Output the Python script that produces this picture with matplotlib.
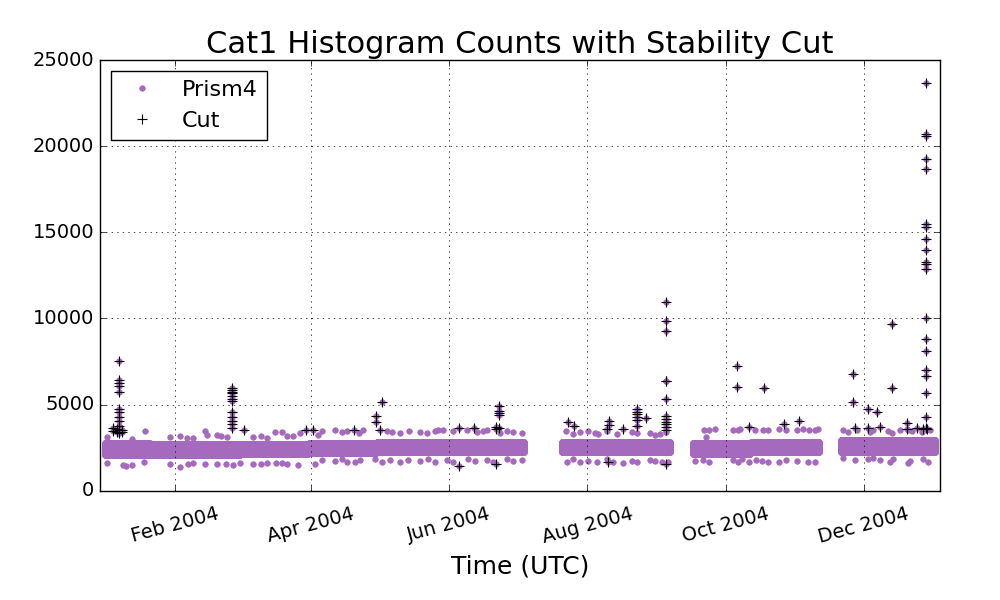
import numpy as np
import pandas as pd
import matplotlib
matplotlib.use('Agg')
import matplotlib.pyplot as plt
import matplotlib.dates as mdates

plt.style.use('classic')
plt.rcParams['figure.facecolor'] = 'white'
plt.rcParams['font.family'] = ['DejaVu Sans']

base = pd.Timestamp('2004-01-01')

# dense core of the histogram counts: day ranges and the band's low/high edge
core_start = [0.0, 20.0, 60.0, 90.0, 120.0, 201.6, 259.4, 285.0, 324.7]
core_end = [20.0, 60.0, 90.0, 120.0, 185.2, 249.7, 285.0, 315.4, 366.6]
core_lo = [2050, 2100, 2130, 2170, 2230, 2230, 2150, 2230, 2230]
core_hi = [2750, 2700, 2780, 2850, 2900, 2850, 2780, 2880, 2930]

# scattered points above and below the core (not cut)
hi_day = [0.9, 12.2, 17.8, 28.8, 33.2, 36.2, 38.8, 44.2, 45.0, 49.4, 51.2, 53.8,
          65.5, 68.8, 71.5, 75.1, 78.1, 80.3, 83.2, 86.2, 94.2, 95.7, 101.6, 104.6,
          106.8, 112.3, 114.1, 124.4, 126.6, 130.3, 134.4, 139.1, 142.1, 145.7,
          147.2, 149.4, 153.8, 159.7, 164.1, 167.1, 168.6, 174.4, 177.4, 180.3, 184.0,
          203.6, 206.8, 209.7, 213.4, 216.3, 217.8, 221.5, 225.9, 232.5, 234.7,
          240.6, 242.8, 245.0, 247.9,
          264.5, 265.5, 266.8, 269.3, 277.4, 279.6, 280.4, 287.0, 290.4, 292.8, 297.7,
          300.6, 305.6, 308.3, 310.9, 313.4, 314.9,
          325.9, 328.1, 331.8, 337.7, 339.2, 345.8, 347.3, 351.0, 354.6, 356.1,
          360.5, 364.2]
hi_val = [3150, 3000, 3450, 3150, 3200, 3050, 3050, 3450, 3250, 3250, 3200, 3150,
          3150, 3200, 3050, 3400, 3400, 3200, 3200, 3350, 3250, 3450, 3500, 3400,
          3450, 3350, 3500, 3450, 3400, 3350, 3450, 3400, 3350, 3450,
          3550, 3500, 3450, 3550, 3400, 3450, 3500, 3350, 3450, 3400, 3350,
          3450, 3300, 3400, 3480, 3350, 3300, 3450, 3300, 3400, 3350,
          3350, 3250, 3300, 3400,
          3550, 3100, 3550, 3600, 3550, 3500, 3600, 3550, 3500, 3550, 3600,
          3500, 3550, 3600, 3500, 3550, 3600,
          3550, 3400, 3550, 3400, 3500, 3450, 3350, 3500, 3550, 3450,
          3400, 3500]
lo_day = [0.9, 7.9, 9.4, 12.2, 17.3, 28.8, 33.0, 36.6, 39.0, 44.2, 49.4, 53.5,
          56.5, 59.6, 65.5, 68.8, 71.5, 75.6, 78.1, 80.3, 85.4, 92.9, 95.7, 101.6,
          104.6, 106.8, 110.4, 112.6, 119.3, 122.2, 125.9, 130.3, 134.0, 139.1,
          142.8, 145.7, 150.9, 153.8, 160.4, 163.4, 168.6, 171.5, 177.4, 180.3, 184.0,
          203.9, 206.8, 209.7, 213.4, 217.1, 221.5, 224.4, 228.8, 232.5, 234.7,
          240.6, 242.8, 245.8, 248.7,
          260.5, 264.2, 266.8, 277.4, 279.6, 281.1, 284.4, 287.4, 289.9, 292.8,
          297.7, 300.6, 305.4, 310.5, 313.4,
          325.9, 331.1, 336.9, 339.2, 342.1, 346.5, 348.0, 354.6, 355.3, 361.2, 363.4]
lo_val = [1600, 1500, 1450, 1500, 1700, 1550, 1400, 1550, 1600, 1550, 1550, 1550,
          1500, 1600, 1550, 1550, 1600, 1600, 1600, 1550, 1500, 1550, 1800, 1750,
          1850, 1700, 1650, 1800, 1850, 1700, 1800, 1650, 1800, 1750,
          1850, 1700, 1800, 1700, 1850, 1750, 1800, 1700, 1850, 1750, 1800,
          1700, 1850, 1650, 1750, 1700, 1850, 1650, 1600, 1750, 1700,
          1800, 1750, 1700, 1650,
          1750, 1800, 1700, 1800, 1650, 1850, 1700, 1800, 1750, 1700,
          1650, 1800, 1750, 1700, 1650,
          1900, 1800, 1850, 1900, 1800, 1700, 1850, 1600, 1750, 1850, 1700]

# points removed by the stability cut
cut_day = [6.4, 6.4, 6.4, 6.4, 6.4, 6.4, 6.4, 6.4, 6.4, 6.4, 6.4, 6.4,
           3.8, 3.8, 5.3, 5.3, 7.5, 7.5,
           56.3, 56.3, 56.3, 56.3, 56.3, 56.3, 56.3, 56.3, 56.3, 56.3, 56.3, 56.3,
           61.4, 89.0, 92.0,
           110.0, 119.7, 119.7, 122.3, 121.5,
           156.5, 156.5, 163.0, 172.5, 172.5, 172.5,
           174.0, 174.0, 174.0, 174.0, 174.0,
           204.6, 207.0, 221.5, 222.5, 222.5, 222.0, 228.8,
           234.7, 234.7, 234.7, 234.7, 234.7, 234.7, 238.7,
           247.7, 247.7, 247.7, 247.7, 247.7, 247.7, 247.7, 247.7, 247.7, 247.7,
           247.7, 247.7, 247.7,
           279.1, 279.1, 291.1, 284.3, 299.9, 306.4,
           330.3, 330.3, 331.0, 336.9, 336.9, 340.9, 342.0, 347.5, 347.5,
           353.9, 353.9, 358.3, 361.2,
           362.4, 362.4, 362.4, 362.4, 362.4, 362.4, 362.4, 362.4, 362.4, 362.4,
           362.4, 362.4, 362.4, 362.4, 362.4, 362.4, 362.4, 362.4, 362.4, 362.4,
           363.0]
cut_val = [7550, 6450, 6250, 6100, 5750, 4750, 4600, 4300, 4050, 3750, 3500, 3350,
           3650, 3450, 3600, 3400, 3500, 3400,
           5950, 5850, 5750, 5650, 5500, 5350, 5200, 4550, 4300, 4050, 3900, 3650,
           3500, 3550, 3550,
           3550, 4350, 4000, 5150, 3550,
           3650, 1450, 3650, 3700, 3600, 1550,
           4900, 4650, 4500, 4400, 3650,
           4000, 3750, 3600, 4050, 3800, 1700, 3600,
           4750, 4600, 4450, 4300, 4100, 3750, 4200,
           10950, 9850, 9300, 6400, 6350, 5300, 4350, 4150, 4000, 3850,
           3700, 3550, 1550,
           7250, 6000, 5950, 3700, 3850, 4050,
           6750, 5150, 3650, 4750, 3650, 4550, 3700, 9700, 5950,
           3950, 3600, 3650, 3600,
           23650, 20700, 20600, 19250, 18700, 15500, 15300, 14600, 14000, 13250,
           13150, 12900, 10050, 8800, 8100, 7000, 6650, 5700, 4300, 3650,
           3600]

# build the Prism4 series: core band + scattered points + the cut points
core_t = []
core_v = []
for s, e, lo, hi in zip(core_start, core_end, core_lo, core_hi):
    days = np.arange(s, e, 0.125)
    levels = np.arange(lo, hi + 1, 100)
    dd, vv = np.meshgrid(days, levels)
    core_t.append(dd.ravel())
    core_v.append(vv.ravel())

all_day = np.concatenate(core_t + [np.array(hi_day), np.array(lo_day), np.array(cut_day)])
all_val = np.concatenate(core_v + [np.array(hi_val), np.array(lo_val), np.array(cut_val)])
order = np.argsort(all_day)
all_day = all_day[order]
all_val = all_val[order]

to_time = lambda d: base + pd.to_timedelta(np.asarray(d), unit='D')

fig = plt.figure(figsize=(10, 6), dpi=100)
ax = fig.add_axes([0.1, 0.182, 0.84, 0.718])

purple = '#a569bd'
ax.plot(to_time(all_day), all_val, 'o', color=purple, mec=purple,
        markersize=4, label='Prism4')
ax.plot(to_time(cut_day), cut_val, '+', color='black', mew=0.8,
        markersize=7, label='Cut')

ax.set_ylim(0, 25000)
ax.set_xlim(to_time(-2.1), to_time(368.6))
ax.xaxis.set_major_locator(mdates.MonthLocator(bymonth=[2, 4, 6, 8, 10, 12]))
ax.xaxis.set_major_formatter(mdates.DateFormatter('%b %Y'))
for lab in ax.get_xticklabels():
    lab.set_rotation(15)
    lab.set_ha('center')
ax.tick_params(labelsize=14)
ax.tick_params(axis='x', pad=10)
ax.grid(True, color='black', linestyle=':')

ax.set_title('Cat1 Histogram Counts with Stability Cut', fontsize=22)
ax.set_xlabel('Time (UTC)', fontsize=18)
ax.legend(loc='upper left', numpoints=1, fontsize=16, fancybox=False)

fig.savefig('out.png', dpi=100, facecolor='white')
